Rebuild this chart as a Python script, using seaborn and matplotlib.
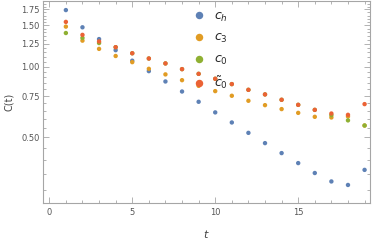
import numpy as np
import pandas as pd
import matplotlib
matplotlib.use("Agg")
import matplotlib.pyplot as plt
from matplotlib.ticker import FixedLocator, MultipleLocator
import seaborn as sns

# time steps and the four correlator estimates
t = list(range(1, 20))
c_h = [1.74, 1.47, 1.31, 1.175, 1.06, 0.957, 0.865, 0.784, 0.709, 0.639,
       0.579, 0.523, 0.473, 0.429, 0.389, 0.353, 0.325, 0.314, 0.364]
c_3 = [1.48, 1.29, 1.19, 1.11, 1.045, 0.979, 0.927, 0.876, 0.829, 0.787,
       0.752, 0.716, 0.686, 0.660, 0.636, 0.612, 0.608, 0.614, 0.562]
c_0 = [1.39, 1.325, 1.26, 1.21, 1.14, 1.083, 1.032, 0.976, 0.932, 0.888,
       0.843, 0.797, 0.762, 0.723, 0.688, 0.655, 0.622, 0.591, 0.562]
c_0t = [1.55, 1.365, 1.28, 1.21, 1.14, 1.083, 1.032, 0.976, 0.932, 0.888,
        0.843, 0.797, 0.762, 0.723, 0.688, 0.655, 0.632, 0.624, 0.693]

names = [r"$c_h$", r"$c_3$", r"$c_0$", r"$\tilde{c}_0$"]
colors = ["#5e81b5", "#e19c24", "#8fb032", "#eb6235"]

df = pd.concat([
    pd.DataFrame({"t": t, "C": vals, "series": name})
    for name, vals in zip(names, [c_h, c_3, c_0, c_0t])
])

sns.set_style("ticks")
fig = plt.figure(figsize=(3.74, 2.4), dpi=100)
ax = fig.add_axes([0.114, 0.155, 0.875, 0.84])

sns.scatterplot(data=df, x="t", y="C", hue="series", palette=colors,
                s=10, linewidth=0, ax=ax)

ax.set_yscale("log")
ax.set_ylim(0.2637, 1.898)
ax.set_xlim(-0.4, 19.32)

# ticks like the Mathematica frame
ax.yaxis.set_major_locator(FixedLocator([0.5, 0.75, 1.0, 1.25, 1.5, 1.75]))
ax.set_yticklabels(["0.50", "0.75", "1.00", "1.25", "1.50", "1.75"])
ax.yaxis.set_minor_locator(FixedLocator(np.arange(0.30, 1.86, 0.05)))
ax.yaxis.set_minor_formatter(plt.NullFormatter())
ax.xaxis.set_major_locator(MultipleLocator(5))
ax.xaxis.set_minor_locator(MultipleLocator(1))

frame = "#a6a6a6"
for sp in ax.spines.values():
    sp.set_color(frame)
    sp.set_linewidth(0.8)
ax.tick_params(which="both", direction="in", top=True, right=True,
               color=frame, width=0.6, labelsize=6, labelcolor="#555555")
ax.tick_params(axis="x", pad=3.5)
ax.tick_params(axis="y", pad=2)
ax.tick_params(which="major", length=4)
ax.tick_params(which="minor", length=2.2)

ax.set_xlabel(r"$t$", fontsize=8, color="#444444", labelpad=8)
ax.set_ylabel("C(t)", fontsize=7, color="#444444", labelpad=5)

leg = ax.legend(loc="upper left", bbox_to_anchor=(0.405, 1.015), frameon=False,
                fontsize=9, markerscale=1.7, labelspacing=0.62,
                handletextpad=0.2, title=None)

fig.savefig("out.png", dpi=100)
